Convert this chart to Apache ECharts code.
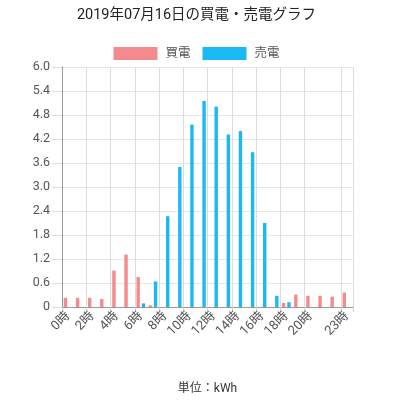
<!DOCTYPE html>
<html>
<head>
<meta charset="utf-8">
<script src="https://cdn.jsdelivr.net/npm/echarts@6/dist/echarts.min.js"></script>
<style>html,body{margin:0;padding:0;background:#fff;}#c{width:393px;height:400px;}</style>
</head>
<body>
<div id="c"></div>
<script>
var titleText = '2019年07月16日の買電・売電グラフ';
var unitText = '単位：kWh';
var categories = ['0時','1時','2時','3時','4時','5時','6時','7時','8時','9時','10時','11時','12時','13時','14時','15時','16時','17時','18時','19時','20時','21時','22時','23時'];
var buyName = '買電';
var sellName = '売電';
var buyValues = [0.23,0.23,0.23,0.2,0.91,1.31,0.75,0.04,0,0,0,0,0,0,0,0,0,0,0.1,0.31,0.28,0.28,0.26,0.36];
var sellValues = [0,0,0,0,0,0,0.09,0.64,2.27,3.5,4.56,5.15,5.01,4.31,4.4,3.87,2.1,0.28,0.12,0,0,0,0,0];
var yTicks = [0,0.6,1.2,1.8,2.4,3.0,3.6,4.2,4.8,5.4,6.0];

var FONT = 'Roboto, "Noto Sans CJK JP", sans-serif';
function shown(i){ return (i % 2 === 0 && i <= 20) || i === 23; }

var chart = echarts.init(document.getElementById('c'), null, {renderer:'canvas'});
chart.setOption({
  animation:false,
  backgroundColor:'#fff',
  title:{text:titleText,left:'center',top:3,textStyle:{fontSize:14.5,fontWeight:'normal',color:'#222',fontFamily:FONT}},
  legend:{top:42,left:'center',itemWidth:44,itemHeight:13,itemGap:12,icon:'rect',
    textStyle:{fontSize:12.5,color:'#555',fontFamily:FONT,padding:[0,0,0,3]},
    data:[buyName,sellName]},
  grid:{left:62,right:40,top:67,bottom:91,containLabel:false},
  xAxis:{type:'category',data:categories,boundaryGap:true,
    name:unitText,nameLocation:'middle',nameGap:76,
    nameTextStyle:{fontSize:12,color:'#333',fontFamily:FONT},
    axisLine:{lineStyle:{color:'#999'}},
    axisTick:{show:true,length:5,interval:function(i){return shown(i);},lineStyle:{color:'#ccc'}},
    axisLabel:{rotate:45,interval:function(i){return shown(i);},fontSize:13,color:'#555',fontFamily:FONT,margin:7},
    splitLine:{show:true,interval:function(i){return shown(i);},lineStyle:{color:'#ddd'}}
  },
  yAxis:{type:'value',min:0,max:6,interval:0.6,
    axisLine:{show:true,lineStyle:{color:'#999'}},
    axisTick:{show:true,length:10,lineStyle:{color:'#ddd'}},
    axisLabel:{fontSize:12.5,color:'#555',fontFamily:FONT,margin:12,
      formatter:function(v){ var t=yTicks.reduce(function(a,b){return Math.abs(b-v)<Math.abs(a-v)?b:a;}); return t===0?'0':t.toFixed(1);}},
    splitLine:{show:true,lineStyle:{color:'#e6e6e6'}}
  },
  series:[
    {name:buyName,type:'bar',data:buyValues,barWidth:3.4,barGap:'55%',itemStyle:{color:'#F48A8D'}},
    {name:sellName,type:'bar',data:sellValues,barWidth:3.4,barGap:'55%',itemStyle:{color:'#19B9F4'}}
  ]
});
</script>
</body>
</html>
